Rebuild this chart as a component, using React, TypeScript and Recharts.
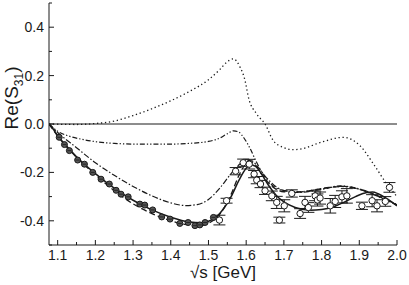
import React from 'react';
import {
  ComposedChart,
  Line,
  Scatter,
  ErrorBar,
  XAxis,
  YAxis,
  ReferenceLine
} from 'recharts';

if (typeof document !== 'undefined') document.body.style.margin = '0';

const FONT = '"Liberation Sans", Arial, Helvetica, sans-serif';
const INK = '#1a1a1a';

// axis ticks (majors get labels, the rest are minor marks)
const xTicks = [1.1, 1.15, 1.2, 1.25, 1.3, 1.35, 1.4, 1.45, 1.5, 1.55, 1.6, 1.65, 1.7, 1.75, 1.8, 1.85, 1.9, 1.95, 2.0];
const xMajor = [1.1, 1.2, 1.3, 1.4, 1.5, 1.6, 1.7, 1.8, 1.9, 2.0];
const yTicks = [-0.5, -0.4, -0.3, -0.2, -0.1, 0, 0.1, 0.2, 0.3, 0.4, 0.5];
const yMajor = [-0.4, -0.2, 0, 0.2, 0.4];

// model curves [sqrt(s), Re S31]
const solidCurve = [
  [1.077, 0], [1.09, -0.025], [1.1, -0.048], [1.12, -0.085], [1.15, -0.135], [1.2, -0.205],
  [1.25, -0.265], [1.3, -0.315], [1.35, -0.355], [1.4, -0.385], [1.45, -0.405], [1.48, -0.408],
  [1.5, -0.402], [1.52, -0.385], [1.54, -0.35], [1.56, -0.3], [1.58, -0.235], [1.6, -0.183],
  [1.612, -0.168], [1.625, -0.175], [1.64, -0.205], [1.66, -0.255], [1.68, -0.295], [1.7, -0.322],
  [1.73, -0.345], [1.77, -0.356], [1.8, -0.353], [1.83, -0.343], [1.86, -0.323], [1.89, -0.3],
  [1.92, -0.283], [1.935, -0.281], [1.95, -0.288], [1.97, -0.305], [2.0, -0.338]
];
const dashedCurve = [
  [1.077, 0], [1.1, -0.05], [1.15, -0.138], [1.2, -0.21], [1.25, -0.275], [1.3, -0.33],
  [1.35, -0.37], [1.4, -0.4], [1.45, -0.418], [1.48, -0.42], [1.5, -0.41], [1.52, -0.39],
  [1.54, -0.35], [1.56, -0.29], [1.58, -0.215], [1.6, -0.163], [1.61, -0.157], [1.625, -0.17],
  [1.64, -0.205], [1.66, -0.245], [1.68, -0.27], [1.7, -0.28], [1.73, -0.282], [1.77, -0.275],
  [1.82, -0.262], [1.86, -0.258], [1.9, -0.27], [1.93, -0.285], [1.96, -0.305], [2.0, -0.335]
];
const dashDotCurve = [
  [1.077, 0], [1.1, -0.035], [1.15, -0.098], [1.2, -0.16], [1.25, -0.212], [1.3, -0.258],
  [1.35, -0.297], [1.4, -0.326], [1.44, -0.337], [1.47, -0.333], [1.5, -0.312], [1.53, -0.265],
  [1.56, -0.205], [1.585, -0.163], [1.6, -0.15], [1.615, -0.152], [1.63, -0.175], [1.65, -0.215],
  [1.68, -0.26], [1.7, -0.275], [1.74, -0.283], [1.8, -0.27], [1.85, -0.258], [1.9, -0.27],
  [1.95, -0.3], [2.0, -0.335]
];
const dashDotDotCurve = [
  [1.077, 0], [1.1, -0.03], [1.13, -0.05], [1.17, -0.065], [1.2, -0.073], [1.25, -0.08],
  [1.3, -0.083], [1.4, -0.083], [1.45, -0.08], [1.5, -0.072], [1.53, -0.058], [1.55, -0.04],
  [1.567, -0.028], [1.58, -0.033], [1.595, -0.06], [1.61, -0.1], [1.625, -0.15], [1.64, -0.195],
  [1.66, -0.24], [1.68, -0.265], [1.7, -0.275], [1.74, -0.28], [1.8, -0.268], [1.85, -0.256],
  [1.9, -0.268], [1.95, -0.298], [2.0, -0.333]
];
const dottedCurve = [
  [1.077, 0], [1.15, -0.002], [1.2, 0.002], [1.25, 0.012], [1.3, 0.035], [1.35, 0.063],
  [1.4, 0.096], [1.45, 0.135], [1.5, 0.183], [1.53, 0.225], [1.548, 0.255], [1.566, 0.269],
  [1.584, 0.234], [1.597, 0.179], [1.606, 0.11], [1.628, 0.041], [1.65, 0], [1.672, -0.069],
  [1.699, -0.097], [1.725, -0.106], [1.743, -0.104], [1.8, -0.075], [1.858, -0.055],
  [1.902, -0.09], [1.938, -0.166], [1.973, -0.248], [1.991, -0.283], [2.0, -0.3]
];

// data points: low-energy (filled) and higher energy with errors (open)
const filledPoints = [
  [1.104, -0.055], [1.118, -0.085], [1.131, -0.11], [1.153, -0.149], [1.171, -0.166],
  [1.193, -0.2], [1.215, -0.228], [1.237, -0.248], [1.255, -0.274], [1.268, -0.29],
  [1.287, -0.301], [1.318, -0.331], [1.331, -0.335], [1.352, -0.355], [1.376, -0.384],
  [1.398, -0.393], [1.424, -0.411], [1.446, -0.407], [1.464, -0.42], [1.477, -0.417],
  [1.491, -0.407], [1.513, -0.386]
];
const openPoints = [
  [1.529, -0.397, 0.02], [1.548, -0.317, 0.01], [1.572, -0.195, 0.015], [1.592, -0.16, 0.015],
  [1.608, -0.166, 0.02], [1.621, -0.207, 0.015], [1.628, -0.232, 0.015], [1.638, -0.248, 0.015],
  [1.65, -0.276, 0.015], [1.668, -0.297, 0.02], [1.681, -0.324, 0.025], [1.688, -0.397, 0.012],
  [1.701, -0.338, 0.025], [1.721, -0.287, 0.015], [1.743, -0.37, 0.02], [1.756, -0.324, 0.025],
  [1.765, -0.345, 0.02], [1.783, -0.297, 0.02], [1.789, -0.314, 0.025], [1.796, -0.306, 0.025],
  [1.823, -0.338, 0.03], [1.836, -0.32, 0.025], [1.854, -0.301, 0.025], [1.867, -0.297, 0.03],
  [1.907, -0.338, 0.015], [1.934, -0.317, 0.025], [1.947, -0.338, 0.025], [1.969, -0.32, 0.02],
  [1.98, -0.262, 0.02]
];

const toXY = (arr: number[][]) => arr.map(([x, y, e]) => ({ x, y, e }));

const isIn = (list: number[], v: number) => list.some((m) => Math.abs(m - v) < 1e-6);

const BottomTick = ({ x, y, payload }: any) => {
  const major = isIn(xMajor, payload.value);
  return (
    <g>
      <line x1={x} x2={x} y1={y} y2={y - (major ? 5 : 3)} stroke={INK} strokeWidth={1} />
      {major && (
        <text x={x} y={y + 15} textAnchor="middle" fontSize={14} fontFamily={FONT} fill={INK}>
          {payload.value.toFixed(1)}
        </text>
      )}
    </g>
  );
};

const TopTick = ({ x, y, payload }: any) => {
  const major = isIn(xMajor, payload.value);
  return <line x1={x} x2={x} y1={y} y2={y + (major ? 5 : 3)} stroke={INK} strokeWidth={1} />;
};

const LeftTick = ({ x, y, payload }: any) => {
  const major = isIn(yMajor, payload.value);
  return (
    <g>
      <line x1={x} x2={x + (major ? 5 : 3)} y1={y} y2={y} stroke={INK} strokeWidth={1} />
      {major && (
        <text x={x - 5} y={y + 5} textAnchor="end" fontSize={14} fontFamily={FONT} fill={INK}>
          {payload.value.toFixed(1)}
        </text>
      )}
    </g>
  );
};

const RightTick = ({ x, y, payload }: any) => {
  const major = isIn(yMajor, payload.value);
  return <line x1={x} x2={x - (major ? 5 : 3)} y1={y} y2={y} stroke={INK} strokeWidth={1} />;
};

const XLabel = () => (
  <text x={223} y={278} textAnchor="middle" fontSize={17} fontFamily={FONT} fill={INK}>
    √s [GeV]
  </text>
);

const YLabel = () => (
  <text x={18} y={98} transform="rotate(-90 18 98)" textAnchor="middle" fontSize={19} fontFamily={FONT} fill={INK}>
    Re(S<tspan fontSize={12} dy={5}>31</tspan><tspan dy={-5}>)</tspan>
  </text>
);

const OpenDot = ({ cx, cy }: any) => (
  <circle cx={cx} cy={cy} r={3.2} fill="#fff" stroke={INK} strokeWidth={1} />
);
const FilledDot = ({ cx, cy }: any) => (
  <g>
    <circle cx={cx} cy={cy} r={3} fill="#555" stroke={INK} strokeWidth={1} />
    <line x1={cx - 2} x2={cx + 2} y1={cy} y2={cy} stroke={INK} strokeWidth={0.8} />
  </g>
);
const NoDot = () => null;

const App = () => {
  const open = toXY(openPoints);
  return (
    <ComposedChart width={409} height={285} margin={{ top: 3, right: 12, bottom: 0, left: 0 }}>
      <XAxis
        xAxisId={0}
        type="number"
        dataKey="x"
        domain={[1.077, 2.0]}
        allowDataOverflow
        ticks={xTicks}
        interval={0}
        height={40}
        tickSize={0}
        tickMargin={0}
        tickLine={false}
        axisLine={{ stroke: INK }}
        tick={<BottomTick />}
        label={<XLabel />}
      />
      <XAxis
        xAxisId="top"
        orientation="top"
        type="number"
        dataKey="x"
        domain={[1.077, 2.0]}
        allowDataOverflow
        ticks={xTicks}
        interval={0}
        height={0}
        tickSize={0}
        tickMargin={0}
        tickLine={false}
        axisLine={{ stroke: INK }}
        tick={<TopTick />}
      />
      <YAxis
        yAxisId={0}
        type="number"
        dataKey="y"
        domain={[-0.5, 0.5]}
        allowDataOverflow
        ticks={yTicks}
        interval={0}
        width={49}
        tickSize={0}
        tickMargin={0}
        tickLine={false}
        axisLine={{ stroke: INK }}
        tick={<LeftTick />}
        label={<YLabel />}
      />
      <YAxis
        yAxisId="right"
        orientation="right"
        type="number"
        dataKey="y"
        domain={[-0.5, 0.5]}
        allowDataOverflow
        ticks={yTicks}
        interval={0}
        width={0}
        tickSize={0}
        tickMargin={0}
        tickLine={false}
        axisLine={{ stroke: INK }}
        tick={<RightTick />}
      />
      <ReferenceLine y={0} stroke={INK} strokeWidth={1} ifOverflow="hidden" />
      <Line data={toXY(dottedCurve)} dataKey="y" type="monotone" stroke={INK} strokeWidth={1.3} strokeDasharray="1.3 2.7" dot={false} isAnimationActive={false} />
      <Line data={toXY(dashDotDotCurve)} dataKey="y" type="monotone" stroke={INK} strokeWidth={1.2} strokeDasharray="5 2 1.3 2 1.3 2" dot={false} isAnimationActive={false} />
      <Line data={toXY(dashDotCurve)} dataKey="y" type="monotone" stroke={INK} strokeWidth={1.2} strokeDasharray="6 2 1.5 2" dot={false} isAnimationActive={false} />
      <Line data={toXY(dashedCurve)} dataKey="y" type="monotone" stroke={INK} strokeWidth={1.3} strokeDasharray="6 3" dot={false} isAnimationActive={false} />
      <Line data={toXY(solidCurve)} dataKey="y" type="monotone" stroke={INK} strokeWidth={1.5} dot={false} isAnimationActive={false} />
      <Scatter data={toXY(filledPoints)} dataKey="y" shape={<FilledDot />} isAnimationActive={false} />
      <Scatter data={open} dataKey="y" shape={<NoDot />} isAnimationActive={false}>
        <ErrorBar dataKey="e" direction="y" width={6} stroke={INK} strokeWidth={1} />
      </Scatter>
      <Scatter data={open} dataKey="y" shape={<OpenDot />} isAnimationActive={false} />
    </ComposedChart>
  );
};

export default App;
